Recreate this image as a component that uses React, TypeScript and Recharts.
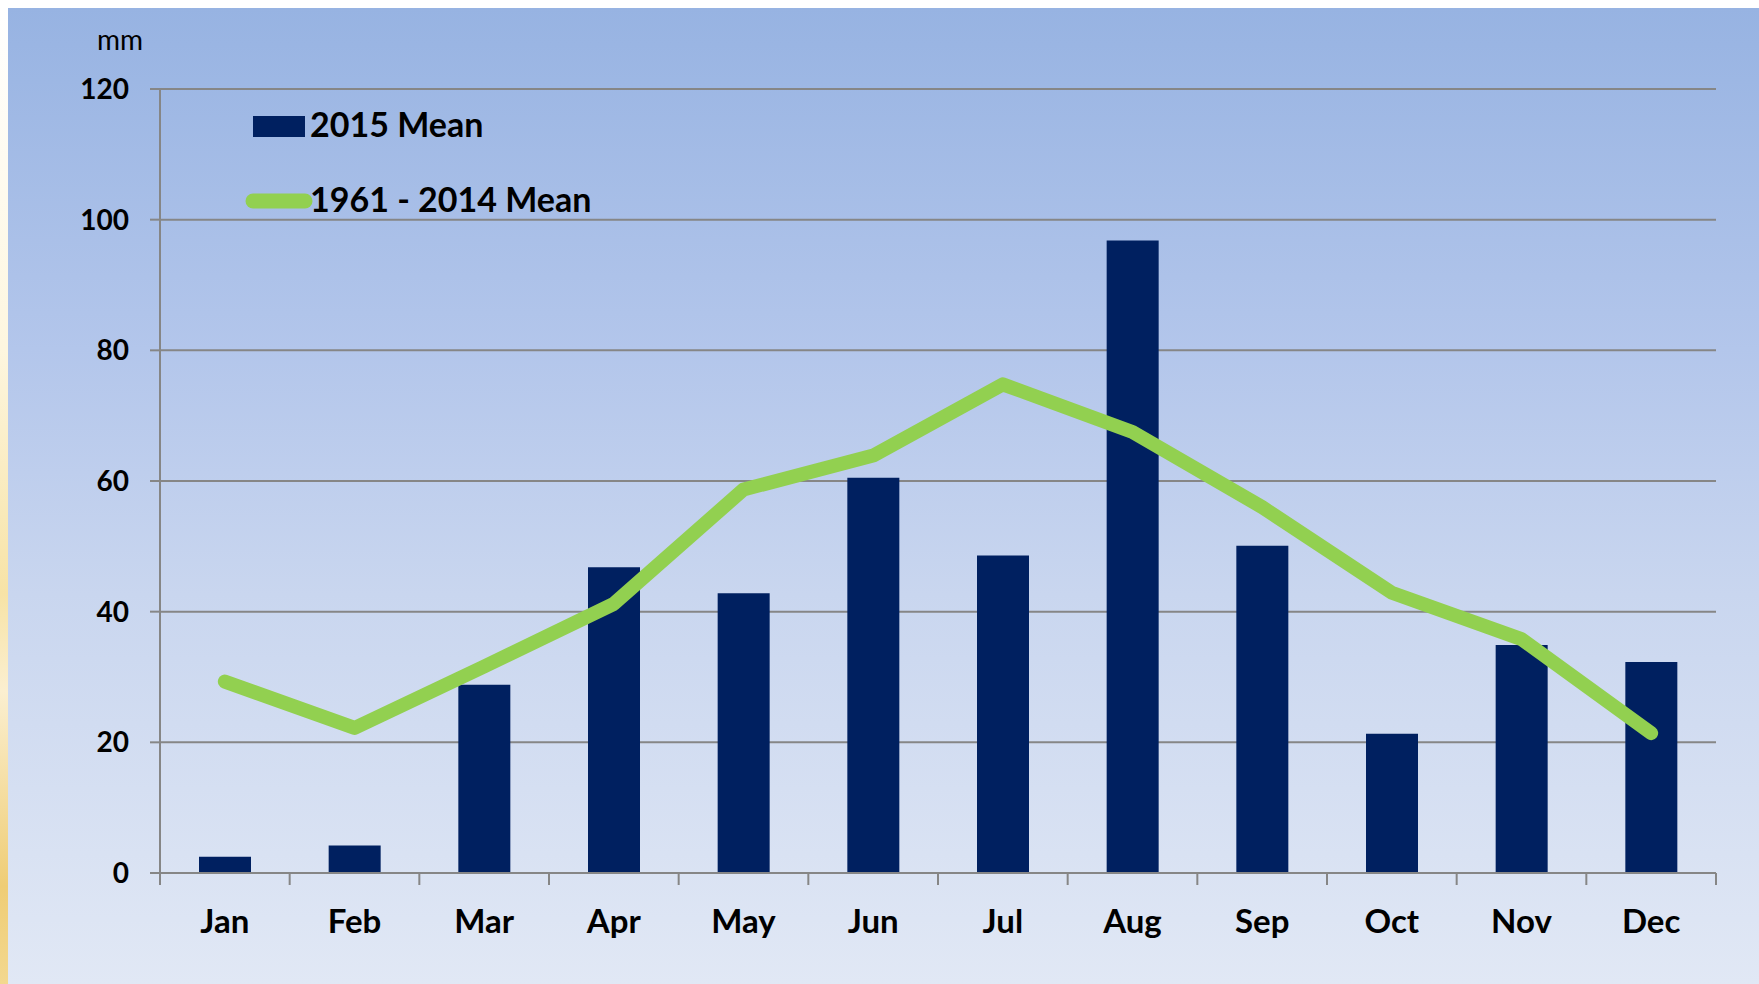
import React from "react";
import {
  ComposedChart,
  Bar,
  Line,
  XAxis,
  YAxis,
  CartesianGrid,
} from "recharts";

const months = ["Jan", "Feb", "Mar", "Apr", "May", "Jun", "Jul", "Aug", "Sep", "Oct", "Nov", "Dec"];
const mean2015 = [2.5, 4.2, 28.8, 46.8, 42.8, 60.5, 48.6, 96.8, 50.1, 21.3, 34.9, 32.3];
const mean1961to2014 = [29.3, 22.2, 31.6, 41.2, 58.7, 63.9, 74.8, 67.5, 56.0, 42.9, 35.8, 21.4];
const yTicks = [0, 20, 40, 60, 80, 100, 120];
const seriesNames = ["2015 Mean", "1961 - 2014 Mean"];
const unitLabel = "mm";

const data = months.map((m, i) => ({
  month: m,
  recent: mean2015[i],
  longTerm: mean1961to2014[i],
}));

const W = 1759;
const H = 984;
const FONT = "Lato, 'Open Sans', sans-serif";
const AXIS = "#868686";
const NAVY = "#002060";
const GREEN = "#92d050";

// category axis: boundary tick marks + bold month label
const MonthTick = (props: any) => {
  const { x, y, payload, index, visibleTicksCount, width } = props;
  const half =
    payload?.offset || (width ? width / (visibleTicksCount || 12) / 2 : 0);
  return (
    <g>
      <line x1={x - half} y1={y} x2={x - half} y2={y + 12} stroke={AXIS} strokeWidth={2} />
      {index === visibleTicksCount - 1 && (
        <line x1={x + half} y1={y} x2={x + half} y2={y + 12} stroke={AXIS} strokeWidth={2} />
      )}
      <text
        x={x}
        y={y + 60}
        textAnchor="middle"
        fontFamily={FONT}
        fontWeight="bold"
        fontSize={33}
        fill="#000"
      >
        {payload.value}
      </text>
    </g>
  );
};

export default function App() {
  return (
    <div style={{ position: "absolute", left: 0, top: 0, width: W, height: H, background: "#fff", overflow: "hidden" }}>
      <div
        style={{
          position: "absolute",
          left: 0,
          top: 8,
          width: 8,
          height: H - 8,
          background: "linear-gradient(#ffffff, #fdf6df 35%, #f7e3a6 60%, #fbefd0 70%, #efcd75 90%, #f3d88f)",
        }}
      />
      <div
        style={{
          position: "absolute",
          left: 8,
          top: 8,
          width: W - 8,
          height: H - 8,
          background: "linear-gradient(#97b3e2, #b3c6eb 35%, #c9d6ef 60%, #e1e8f5)",
        }}
      />
      <div style={{ position: "absolute", left: 0, top: 0 }}>
        <ComposedChart
          width={W}
          height={H}
          data={data}
          margin={{ top: 89, right: 43, left: 0, bottom: 0 }}
          barCategoryGap={0}
        >
          <CartesianGrid vertical={false} stroke={AXIS} strokeWidth={2} />
          <XAxis
            dataKey="month"
            height={111}
            axisLine={{ stroke: AXIS, strokeWidth: 2 }}
            tickLine={false}
            tickSize={0}
            tickMargin={0}
            interval={0}
            tick={<MonthTick />}
          />
          <YAxis
            width={160}
            domain={[0, 120]}
            ticks={yTicks}
            interval={0}
            axisLine={{ stroke: AXIS, strokeWidth: 2 }}
            tickLine={{ stroke: AXIS, strokeWidth: 2 }}
            tickSize={10}
            tickMargin={21}
            tick={{ fontFamily: FONT, fontWeight: "bold", fontSize: 28, fill: "#000" }}
          />
          <Bar dataKey="recent" name={seriesNames[0]} fill={NAVY} barSize={52} isAnimationActive={false} />
          <Line
            type="linear"
            dataKey="longTerm"
            name={seriesNames[1]}
            stroke={GREEN}
            strokeWidth={14}
            strokeLinecap="round"
            strokeLinejoin="round"
            dot={false}
            activeDot={false}
            isAnimationActive={false}
          />
        </ComposedChart>
      </div>
      <svg
        width={W}
        height={260}
        style={{ position: "absolute", left: 0, top: 0, pointerEvents: "none" }}
      >
        <text x={97} y={50} fontFamily={FONT} fontSize={28} fill="#000">
          {unitLabel}
        </text>
        <rect x={253} y={116} width={52} height={21} fill={NAVY} />
        <text x={310} y={137} fontFamily={FONT} fontWeight="bold" fontSize={34} fill="#000">
          {seriesNames[0]}
        </text>
        <line x1={253} y1={201} x2={305} y2={201} stroke={GREEN} strokeWidth={15} strokeLinecap="round" />
        <text x={310} y={212} fontFamily={FONT} fontWeight="bold" fontSize={34} fill="#000">
          {seriesNames[1]}
        </text>
      </svg>
    </div>
  );
}
